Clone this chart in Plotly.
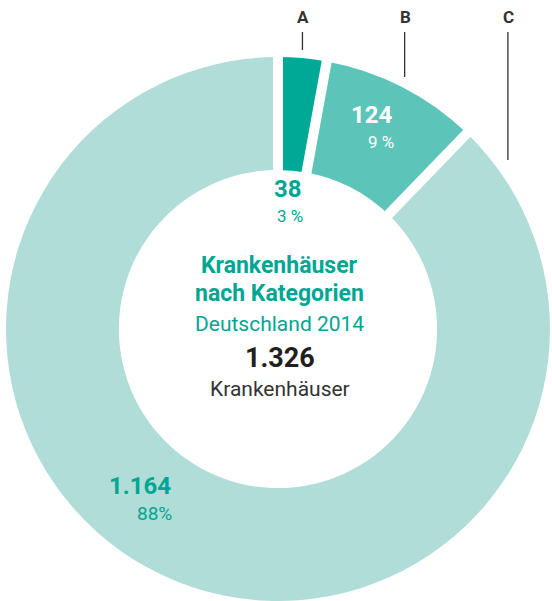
import math
import plotly.graph_objects as go

# ---- data ----
categories = ["A", "B", "C"]
values = [38, 124, 1164]
value_labels = ["38", "124", "1.164"]
percent_labels = ["3 %", "9 %", "88%"]
center_title = ["Krankenhäuser", "nach Kategorien"]
center_subtitle = "Deutschland 2014"
total_label = "1.326"
total_unit = "Krankenhäuser"

# ---- style ----
colors = ["#00a896", "#5cc4b9", "#b0ddd7"]
TEAL = "#00a693"
DARK = "#231f20"
FONT = "Roboto"
W, H = 552, 601
CX, CY = 278, 329          # donut centre in px
R = 272                    # outer radius in px
HOLE = 0.585
GAP = 10                   # white separator width

total = sum(values)
fracs = [v / total for v in values]
cum = [0]
for f in fracs:
    cum.append(cum[-1] + f)


def px(x, y):
    return x / W, 1 - y / H


def polar(theta_deg, r):
    t = math.radians(theta_deg)
    return CX + r * math.sin(t), CY - r * math.cos(t)


fig = go.Figure(go.Pie(
    labels=categories,
    values=values,
    sort=False,
    direction="clockwise",
    rotation=0,
    hole=HOLE,
    marker=dict(colors=colors, line=dict(width=0)),
    textinfo="none",
    hoverinfo="label+value+percent",
    showlegend=False,
    domain=dict(x=[(CX - R) / W, (CX + R) / W], y=[(H - CY - R) / H, (H - CY + R) / H]),
))

shapes = []
# white separators on the slice boundaries
for c in cum[:-1]:
    th = c * 360
    x0, y0 = polar(th, R * HOLE - 6)
    x1, y1 = polar(th, R + 6)
    a0, b0 = px(x0, y0)
    a1, b1 = px(x1, y1)
    shapes.append(dict(type="line", xref="paper", yref="paper", x0=a0, y0=b0, x1=a1, y1=b1,
                       line=dict(color="white", width=GAP), layer="above"))

# leader lines + category letters
leader_angles = [(cum[0] + cum[1]) / 2 * 360, (cum[1] + cum[2]) / 2 * 360 + 0.6, 57.7]
leader_bottom = [50, 77, 160]
annotations = []
for cat, ang, yb in zip(categories, leader_angles, leader_bottom):
    lx, _ = polar(ang, R)
    a0, b0 = px(lx, 32)
    a1, b1 = px(lx, yb)
    shapes.append(dict(type="line", xref="paper", yref="paper", x0=a0, y0=b0, x1=a1, y1=b1,
                       line=dict(color="#333333", width=1.3), layer="above"))
    tx, ty = px(lx + 0.5, 17.5)
    annotations.append(dict(x=tx, y=ty, xref="paper", yref="paper", text=f"<b>{cat}</b>",
                            showarrow=False, xanchor="center", yanchor="middle",
                            font=dict(family=FONT, size=17, color="#333333")))

# slice value labels (right-aligned two-line blocks): (angle, radius) of block's right edge
label_pos = [(11.7, 128.7), (30.3, 231.7), (211.6, 200.7)]
label_val_color = [TEAL, "white", TEAL]
pct_sizes = [17, 17, 19]
for (ang, r), vl, pl, col, ps in zip(label_pos, value_labels, percent_labels, label_val_color, pct_sizes):
    x, y = polar(ang, r)
    a, b = px(x, y - 13.5)
    annotations.append(dict(x=a, y=b, xref="paper", yref="paper", text=f"<b>{vl}</b>",
                            showarrow=False, xanchor="right", yanchor="middle",
                            font=dict(family=FONT, size=24, color=col)))
    a, b = px(x + 1, y + 13.5)
    annotations.append(dict(x=a, y=b, xref="paper", yref="paper", text=pl,
                            showarrow=False, xanchor="right", yanchor="middle",
                            font=dict(family=FONT, size=ps, color=col)))

# centre text
centre_lines = [
    (f"<b>{center_title[0]}</b>", 265, 23, TEAL),
    (f"<b>{center_title[1]}</b>", 293.5, 23, TEAL),
    (center_subtitle, 323.5, 21, TEAL),
    (f"<b>{total_label}</b>", 358, 27, DARK),
    (total_unit, 389, 21, "#333333"),
]
for txt, y, size, col in centre_lines:
    a, b = px(CX + 1.5, y)
    annotations.append(dict(x=a, y=b, xref="paper", yref="paper", text=txt,
                            showarrow=False, xanchor="center", yanchor="middle",
                            font=dict(family=FONT, size=size, color=col)))

fig.update_layout(
    width=W, height=H,
    margin=dict(l=0, r=0, t=0, b=0),
    paper_bgcolor="white", plot_bgcolor="white",
    shapes=shapes, annotations=annotations,
)

fig.write_html("out.html", config={"displayModeBar": False},
               post_script="document.body.style.margin='0px';")
